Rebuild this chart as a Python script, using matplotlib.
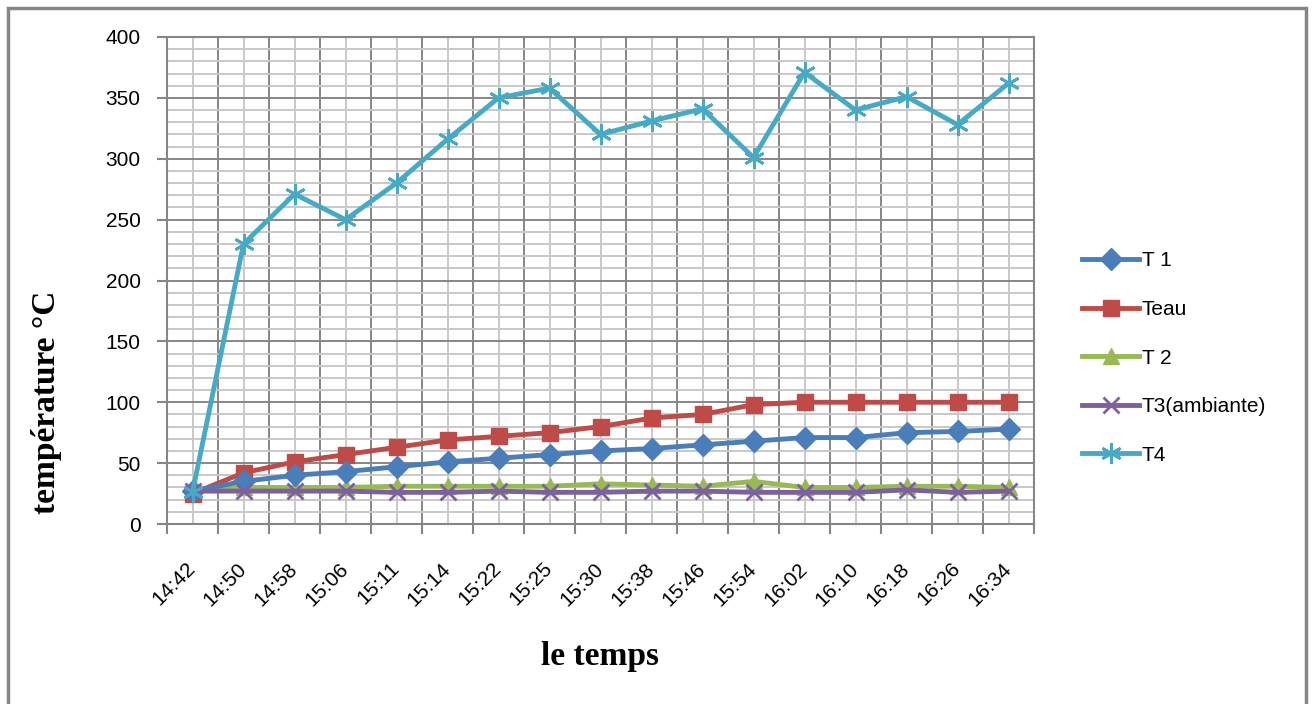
import matplotlib.pyplot as plt
import numpy as np
from matplotlib.patches import Rectangle
from matplotlib.ticker import MultipleLocator, FixedLocator

plt.rcParams['font.family'] = ['Liberation Sans', 'DejaVu Sans']

# Data
temps = ['14:42', '14:50', '14:58', '15:06', '15:11', '15:14', '15:22', '15:25',
         '15:30', '15:38', '15:46', '15:54', '16:02', '16:10', '16:18', '16:26', '16:34']
T1 = [27, 35, 40, 43, 47, 51, 54, 57, 60, 62, 65, 68, 71, 71, 75, 76, 78]
Teau = [25, 42, 51, 57, 63, 69, 72, 75, 80, 87, 90, 98, 100, 100, 100, 100, 100]
T2 = [27, 30, 30, 30, 31, 31, 31, 31, 33, 32, 31, 35, 30, 30, 31, 31, 30]
T3 = [27, 27, 27, 27, 26, 26, 27, 26, 26, 27, 27, 26, 26, 26, 28, 26, 27]
T4 = [26, 230, 271, 250, 280, 316, 350, 358, 320, 331, 341, 301, 371, 340, 351, 328, 362]

x = np.arange(len(temps))

fig = plt.figure(figsize=(13.12, 7.04), dpi=100)
ax = fig.add_axes([167/1312, 1-524/704, (1034-167)/1312, (524-37)/704])

lw = 3.5
ax.plot(x, T1, '-', color='#4A7EBB', lw=lw, marker='D', ms=11, label='T 1', zorder=5)
ax.plot(x, Teau, '-', color='#BE4B48', lw=lw, marker='s', ms=12, label='Teau', zorder=4)
ax.plot(x, T2, '-', color='#98B954', lw=lw, marker='^', ms=11, label='T 2', zorder=3)
ax.plot(x, T3, '-', color='#7D60A0', lw=lw, marker='x', ms=11, mew=2, label='T3(ambiante)', zorder=6)
ax.plot(x, T4, '-', color='#46AAC5', lw=lw, marker=(6, 2, 0), ms=15, mew=2, label='T4', zorder=7)

ax.set_xlim(-0.5, len(temps) - 0.5)
ax.set_ylim(0, 400)

# x: labels at centres, tick marks at category boundaries
ax.xaxis.set_major_locator(FixedLocator(x))
ax.xaxis.set_minor_locator(FixedLocator(np.arange(len(temps) + 1) - 0.5))
ax.set_xticklabels(temps, rotation=45, ha='right', va='center', rotation_mode='anchor')
ax.tick_params(axis='x', which='major', length=0, pad=30, labelsize=15)
ax.tick_params(axis='x', which='minor', length=7, width=1.5, color='#868686', direction='out')

ax.yaxis.set_major_locator(MultipleLocator(50))
ax.yaxis.set_minor_locator(MultipleLocator(10))
ax.tick_params(axis='y', which='major', length=7, width=1.5, color='#868686', pad=12, labelsize=15)
ax.tick_params(axis='y', which='minor', length=0)

ax.set_axisbelow(True)
ax.grid(axis='x', which='major', color='#C8C8C8', lw=1.4)
ax.grid(axis='x', which='minor', color='#868686', lw=1.4)
ax.grid(axis='y', which='minor', color='#C8C8C8', lw=1.4)
ax.grid(axis='y', which='major', color='#868686', lw=1.4)

for s in ax.spines.values():
    s.set_color('#868686')
    s.set_linewidth(1.5)

fig.text(46/1312, 1-402/704, 'température °C', rotation=90, ha='center', va='center',
         fontsize=24, fontweight='bold', family=['Liberation Serif', 'DejaVu Serif'])
fig.text(600/1312, 1-657/704, 'le temps', ha='center', va='center',
         fontsize=24, fontweight='bold', family=['Liberation Serif', 'DejaVu Serif'])

ax.legend(loc='center left', bbox_to_anchor=(1072/1312, 1-358/704),
          bbox_transform=fig.transFigure, frameon=False, fontsize=15,
          handlelength=2.7, handletextpad=0.15, labelspacing=1.42, borderpad=0)

fig.patches.append(Rectangle((8/1312, -0.02), (1306-8)/1312, 1-8/704+0.02,
                             transform=fig.transFigure, fill=False,
                             edgecolor='#868686', lw=2.5))

fig.savefig('out.png', dpi=100)
